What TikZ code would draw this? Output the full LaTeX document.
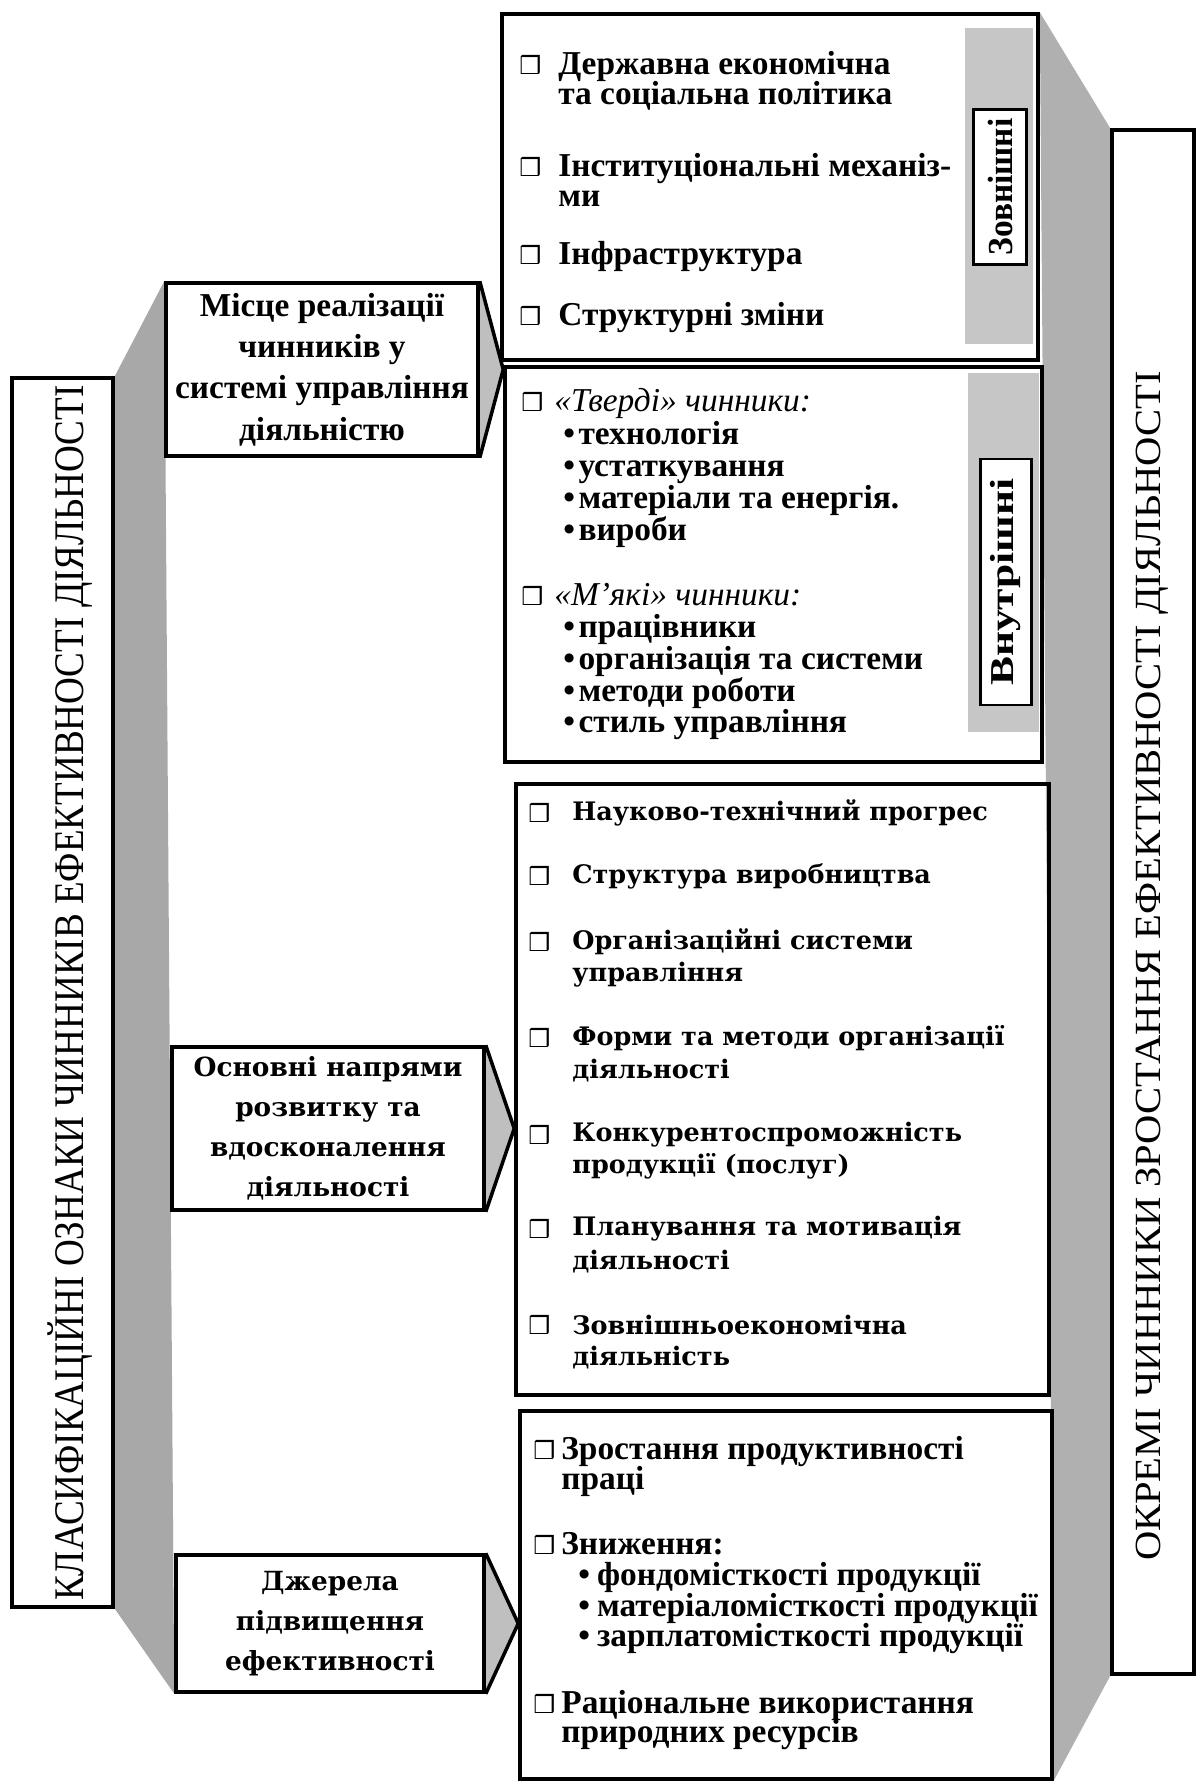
\documentclass[tikz,border=0pt]{standalone}
\usepackage{fontspec}
\setmainfont{Liberation Serif}
\newfontfamily\condserif[FakeStretch=0.88]{Liberation Serif}
\newfontfamily\longserif[FakeStretch=1.1]{Liberation Serif}
\newfontfamily\tagserif[FakeStretch=0.95]{Liberation Serif}
\newfontfamily\tagwideserif[FakeStretch=1.3]{Liberation Serif}
\newfontfamily\wideserif{DejaVu Serif}
\newfontfamily\symfont{DejaVu Sans}
\usetikzlibrary{fit, positioning, backgrounds}

\begin{document}
\begin{tikzpicture}[x=0.02cm, y=-0.02cm,
    frm/.style={draw, line width=2pt, inner sep=0pt},
    greyfill/.style={fill=gray!62},
    pointer/.style={draw, line width=2pt, fill=gray!50, line join=miter},
    band/.style={fill=gray!45, inner sep=0pt},
    tag/.style={draw, line width=1.4pt, fill=white, rotate=90, inner sep=0pt},
    itm/.style={anchor=base west, inner sep=0pt, font=\bfseries\fontsize{19}{19}\selectfont},
    devitm/.style={anchor=west, inner sep=0pt, font=\wideserif\bfseries\fontsize{14.5}{14.5}\selectfont},
    sq/.style={anchor=west, inner sep=0pt, font=\symfont\fontsize{14}{14}\selectfont},
    hdr/.style={align=center, inner sep=0pt, font=\bfseries\fontsize{19}{23.5}\selectfont},
    widehdr/.style={align=center, inner sep=0pt, font=\wideserif\bfseries\fontsize{15}{22.7}\selectfont},
    sidelbl/.style={rotate=90, inner sep=0pt}]
  \useasboundingbox (0,0) rectangle (1200,1782);

  % frames
  \node[frm, fit={(12,378) (113,1607)}] (cls) {};
  \node[frm, fit={(166,283) (478,456)}] (place) {};
  \node[frm, fit={(172,1047) (484,1210)}] (dirs) {};
  \node[frm, fit={(176,1555) (484,1692)}] (srcs) {};
  \node[frm, fit={(502,14) (1038,360)}] (ext) {};
  \node[frm, fit={(505,367) (1042,762)}] (intl) {};
  \node[frm, fit={(516,784) (1049,1395)}] (dev) {};
  \node[frm, fit={(520,1411) (1052,1779)}] (res) {};
  \node[frm, fit={(1112,130) (1194,1674)}] (sep) {};

  % shadows and pointers
  \begin{scope}[on background layer]
    \fill[greyfill, fill=gray!68] (cls.north east) -- (place.north west) -- (srcs.south west) -- (cls.south east) -- cycle;
    \fill[greyfill] (ext.north east) -- (sep.north west) -- (sep.south west) -- (res.south east) -- cycle;
    \draw[pointer] (place.north east) -- (place.east -| intl.west) -- (place.south east);
    \draw[pointer] (dirs.north east) -- (dirs.east -| dev.west) -- (dirs.south east);
    \draw[pointer] (srcs.north east) -- (srcs.east -| res.west) -- (srcs.south east);
  \end{scope}

  % side bands with tags
  \node[band, fit={(965,28) (1033,344)}] (extband) {};
  \node[band, fit={(968,373) (1039,732)}] (intband) {};
  \node[tag, minimum width=88pt, minimum height=30pt,
        font=\tagserif\bfseries\fontsize{20}{20}\selectfont] (exttag) at (1000,187) {Зовнішні};
  \node[tag, minimum width=140pt, minimum height=29pt,
        font=\tagwideserif\bfseries\fontsize{19}{19}\selectfont] (inttag) at (1006,582) {Внутрішні};

  % titles
  \node[sidelbl, font=\condserif\fontsize{24}{24}\selectfont] (clstxt) at (70,993)
    {КЛАСИФІКАЦІЙНІ ОЗНАКИ ЧИННИКІВ ЕФЕКТИВНОСТІ ДІЯЛЬНОСТІ};
  \node[sidelbl, font=\longserif\fontsize{21}{21}\selectfont] (septxt) at (1152,966)
    {ОКРЕМІ ЧИННИКИ ЗРОСТАННЯ ЕФЕКТИВНОСТІ ДІЯЛЬНОСТІ};
  \node[hdr] (placetxt) at (place) {Місце реалізації\\чинників у\\системі управління\\діяльністю};
  \node[widehdr] (dirstxt) at (dirs) {Основні напрями\\розвитку та\\вдосконалення\\діяльності};
  \node[widehdr] (srcstxt) at (srcs) {Джерела\\підвищення\\ефективності};

  % external factors
  \foreach \yy in {65,167,255,316}
    \node[sq] (se\yy) at (519,\yy) {❒};
  \foreach \yy/\txt in {74/Державна економічна, 104/та соціальна політика,
      176/Інституціональні механіз-, 206/ми, 264/Інфраструктура, 325/Структурні зміни}
    \node[itm] (te\yy) at (558,\yy) {\txt};

  % internal factors
  \foreach \yy in {402,596}
    \node[sq] (si\yy) at (521,\yy) {❒};
  \node[itm, font=\itshape\fontsize{19}{19}\selectfont] (hard) at (554,411) {«Тверді» чинники:};
  \node[itm, font=\itshape\fontsize{19}{19}\selectfont] (soft) at (554,605) {«М’які» чинники:};
  \foreach \yy/\txt in {444/технологія, 476/устаткування, 508/матеріали та енергія., 540/вироби,
      637/працівники, 669/організація та системи, 701/методи роботи, 732/стиль управління}
    \node[itm] (ti\yy) at (563,\yy) {•\hspace{2pt}\txt};

  % directions of development
  \foreach \yy in {813,876,942,1038,1135,1229,1325}
    \node[sq] (sd\yy) at (528,\yy) {❒};
  \foreach \yy/\txt in {813/Науково-технічний прогрес, 876/Структура виробництва,
      942/Організаційні системи, 975/управління, 1038/Форми та методи організації, 1071/діяльності,
      1135/Конкурентоспроможність, 1166/{продукції (послуг)}, 1229/Планування та мотивація,
      1262/діяльності, 1325/Зовнішньоекономічна, 1358/діяльність}
    \node[devitm] (td\yy) at (572,\yy) {\txt};

  % sources of efficiency
  \foreach \yy in {1450,1545,1704}
    \node[sq] (sr\yy) at (533,\yy) {❒};
  \foreach \yy/\txt in {1459/Зростання продуктивності, 1489/праці, 1554/Зниження:,
      1713/Раціональне використання, 1742/природних ресурсів}
    \node[itm] (tr\yy) at (561,\yy) {\txt};
  \foreach \yy/\txt in {1585/фондомісткості продукції, 1616/матеріаломісткості продукції,
      1646/зарплатомісткості продукції}
    \node[itm] (tr\yy) at (578,\yy) {•\hspace{4pt}\txt};
\end{tikzpicture}
\end{document}
